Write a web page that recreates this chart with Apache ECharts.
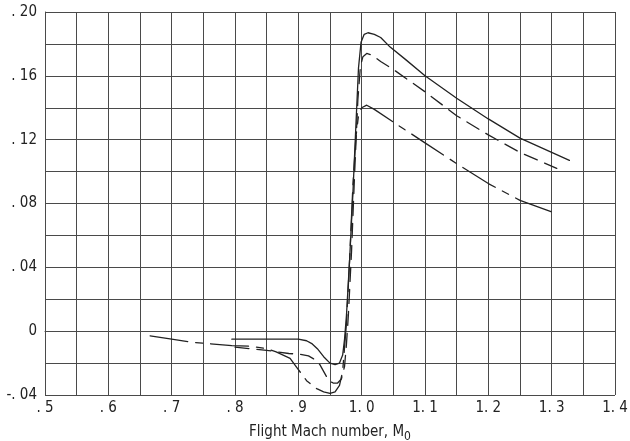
<!DOCTYPE html>
<html lang="en">
<head>
    <meta charset="utf-8">
    <title>Flight Mach number chart</title>
    <script src="https://cdn.jsdelivr.net/npm/echarts@6/dist/echarts.min.js"></script>
</head>
<body style="margin:0; background:#fff;">
<div id="main" style="width: 630px; height: 441px;"></div>

<script type="text/javascript">
    // curve readings: [Mach, value]
    const solidCurve = [
        [0.795, -0.005], [0.85, -0.005], [0.90, -0.005], [0.913, -0.006], [0.922, -0.008],
        [0.930, -0.011], [0.940, -0.016], [0.950, -0.020], [0.958, -0.021], [0.965, -0.020],
        [0.970, -0.015], [0.973, -0.005], [0.976, 0.010], [0.981, 0.045], [0.986, 0.085],
        [0.991, 0.130], [0.995, 0.165], [0.999, 0.181], [1.004, 0.186], [1.010, 0.187],
        [1.020, 0.186], [1.030, 0.184], [1.045, 0.178], [1.070, 0.170], [1.100, 0.160],
        [1.150, 0.146], [1.200, 0.133], [1.250, 0.121], [1.300, 0.112], [1.328, 0.107]
    ];
    const dashCurve = [
        [0.800, -0.010], [0.850, -0.012], [0.885, -0.014], [0.903, -0.0145], [0.916, -0.0155],
        [0.927, -0.018], [0.934, -0.021], [0.941, -0.026], [0.948, -0.031], [0.955, -0.0325],
        [0.962, -0.0325], [0.968, -0.030], [0.973, -0.022], [0.976, -0.008], [0.979, 0.010],
        [0.984, 0.050], [0.989, 0.100], [0.994, 0.145], [0.998, 0.166], [1.002, 0.172],
        [1.008, 0.174], [1.016, 0.173], [1.030, 0.169], [1.050, 0.164], [1.100, 0.150],
        [1.150, 0.135], [1.200, 0.123], [1.250, 0.112], [1.308, 0.102]
    ];
    const dashDotCurve = [
        [0.666, -0.003], [0.700, -0.005], [0.734, -0.007], [0.795, -0.009], [0.826, -0.0095],
        [0.850, -0.011], [0.865, -0.013], [0.887, -0.017], [0.898, -0.023], [0.913, -0.031],
        [0.929, -0.036], [0.940, -0.038], [0.950, -0.039], [0.958, -0.038], [0.965, -0.034],
        [0.970, -0.025], [0.973, -0.010], [0.976, 0.005], [0.981, 0.045], [0.986, 0.090],
        [0.991, 0.122], [0.995, 0.135], [1.000, 0.140], [1.008, 0.1416], [1.020, 0.139],
        [1.050, 0.131], [1.100, 0.118], [1.150, 0.105], [1.200, 0.0925], [1.250, 0.082],
        [1.300, 0.0747]
    ];

    const xTickValues = [0.5, 0.6, 0.7, 0.8, 0.9, 1.0, 1.1, 1.2, 1.3, 1.4];
    const xTickText = ['. 5', '. 6', '. 7', '. 8', '. 9', '1. 0', '1. 1', '1. 2', '1. 3', '1. 4'];
    const yTickValues = [-0.04, 0, 0.04, 0.08, 0.12, 0.16, 0.20];
    const yTickText = ['-. 04', '0', '. 04', '. 08', '. 12', '. 16', '. 20'];

    const font = "'Liberation Sans Narrow', 'DejaVu Sans Condensed', sans-serif";
    const ink = '#222';
    const gridColor = '#4a4a4a';

    function lookup(values, texts, v) {
        for (let i = 0; i < values.length; i++) {
            if (Math.abs(values[i] - v) < 1e-6) return texts[i];
        }
        return '';
    }

    function lineSeries(data, dash) {
        return {
            type: 'line',
            data: data,
            showSymbol: false,
            symbol: 'none',
            smooth: false,
            lineStyle: { color: ink, width: 1.3, type: dash, cap: 'round', join: 'round' },
            z: 5
        };
    }

    let myChart = echarts.init(document.getElementById('main'));
    const option = {
        animation: false,
        backgroundColor: '#fff',
        grid: { left: 45, right: 15, top: 12, bottom: 46, outerBoundsMode: 'none' },
        xAxis: {
            type: 'value',
            min: 0.5,
            max: 1.4,
            interval: 0.05,
            axisLine: { show: true, lineStyle: { color: gridColor, width: 1 } },
            axisTick: { show: false },
            splitLine: { show: true, lineStyle: { color: gridColor, width: 1 } },
            axisLabel: {
                margin: 6,
                color: ink,
                fontFamily: font,
                fontSize: 15,
                showMinLabel: true,
                showMaxLabel: true,
                formatter: function (v) { return lookup(xTickValues, xTickText, v); }
            },
            name: 'Flight Mach number, M{sub|0}',
            nameLocation: 'middle',
            nameGap: 27,
            nameTextStyle: {
                color: ink,
                fontFamily: font,
                fontSize: 15,
                rich: {
                    sub: { fontFamily: font, fontSize: 12, color: ink, verticalAlign: 'bottom', padding: [9, 0, 0, 0] }
                }
            }
        },
        yAxis: {
            type: 'value',
            min: -0.04,
            max: 0.2,
            interval: 0.02,
            axisLine: { show: true, lineStyle: { color: gridColor, width: 1 } },
            axisTick: { show: false },
            splitLine: { show: true, lineStyle: { color: gridColor, width: 1 } },
            axisLabel: {
                margin: 8,
                color: ink,
                fontFamily: font,
                fontSize: 15,
                showMinLabel: true,
                showMaxLabel: true,
                formatter: function (v) { return lookup(yTickValues, yTickText, v); }
            }
        },
        series: [
            lineSeries(solidCurve, 'solid'),
            lineSeries(dashCurve, [14, 8]),
            lineSeries(dashDotCurve, [38, 8, 7, 8])
        ]
    };
    myChart.setOption(option);
</script>
</body>
</html>
